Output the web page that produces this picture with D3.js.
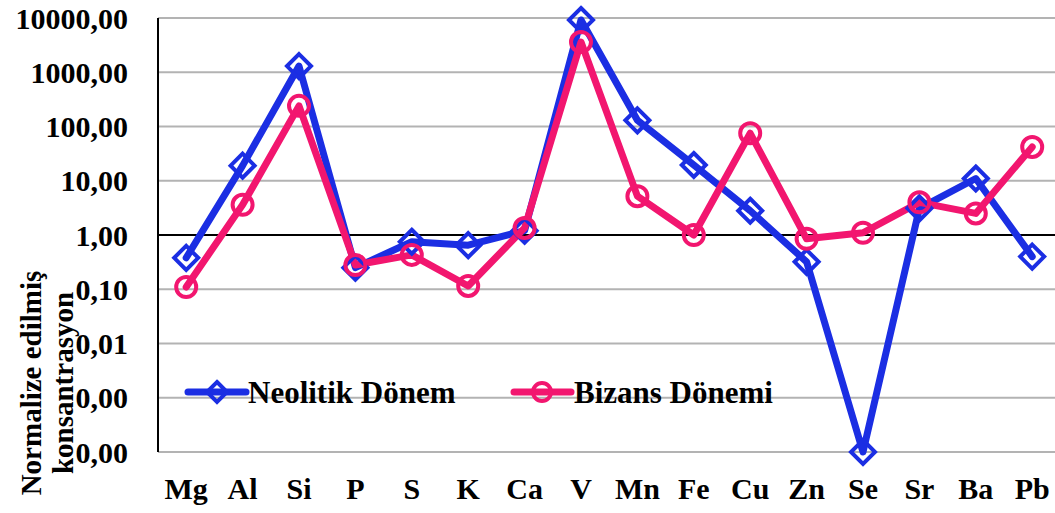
<!DOCTYPE html>
<html>
<head>
<meta charset="utf-8">
<script src="https://cdn.jsdelivr.net/npm/d3@7"></script>
</head>
<body style="margin:0;padding:0;background:#fff">
<svg id="chart" width="1055" height="513" style="display:block;font-family:'Liberation Serif';font-weight:bold"></svg>
<script>
const categories = ["Mg","Al","Si","P","S","K","Ca","V","Mn","Fe","Cu","Zn","Se","Sr","Ba","Pb"];
const neolitik = [0.38, 19, 1300, 0.25, 0.75, 0.65, 1.2, 9200, 130, 19.5, 2.8, 0.32, 0.0001, 3.1, 11, 0.4];
const bizans   = [0.11, 3.6, 240, 0.28, 0.43, 0.115, 1.35, 3600, 5.2, 1.0, 75, 0.85, 1.1, 4.0, 2.5, 42];
const tickValues = [10000, 1000, 100, 10, 1, 0.1, 0.01, 0.001, 0.0001];
const tickLabels = ["10000,00","1000,00","100,00","10,00","1,00","0,10","0,01","0,00","0,00"];
const seriesNames = ["Neolitik Dönem", "Bizans Dönemi"];
const colors = ["#1B2EE3", "#F2166F"];

const FONT = "'Liberation Serif'";
const svg = d3.select("#chart");
const plotLeft = 158, plotTop = 18, plotBottom = 452, band = 56.4;

const x = d3.scaleBand().domain(categories).range([plotLeft, plotLeft + band * categories.length]).padding(0);
const y = d3.scaleLog().domain([0.0001, 10000]).range([plotBottom, plotTop]);
const cx = d => x(d) + x.bandwidth() / 2;

const styleText = sel => sel.attr("font-family", FONT).attr("font-weight", "bold").attr("fill", "#000");

// gridlines
svg.append("g").selectAll("line").data(tickValues).join("line")
  .attr("x1", plotLeft).attr("x2", 1055)
  .attr("y1", d => y(d)).attr("y2", d => y(d))
  .attr("stroke", d => d === 1 ? "#000" : "#b3b3b3")
  .attr("stroke-width", 2);

// y axis line
svg.append("line").attr("x1", plotLeft).attr("x2", plotLeft)
  .attr("y1", plotTop).attr("y2", plotBottom).attr("stroke", "#000").attr("stroke-width", 2);

// y tick labels
const yAxis = d3.axisLeft(y).tickValues(tickValues).tickSize(0).tickPadding(0)
  .tickFormat((d, i) => tickLabels[i]);
const yg = svg.append("g").attr("transform", "translate(128,0)").call(yAxis);
yg.attr("font-family", FONT).attr("font-weight", "bold");
yg.select(".domain").remove();
yg.selectAll("text").attr("font-size", 30).attr("dy", "0.34em").call(styleText);

// x labels
const xAxis = d3.axisBottom(x).tickSize(0).tickPadding(0);
const xg = svg.append("g").attr("transform", "translate(0,499)").call(xAxis);
xg.attr("font-family", FONT).attr("font-weight", "bold");
xg.select(".domain").remove();
xg.selectAll("text").attr("font-size", 30).attr("dy", 0).attr("y", 0).call(styleText);

// y axis title
const title = svg.append("g");
title.append("text").attr("transform", "translate(41,383) rotate(-90)")
  .attr("text-anchor", "middle").attr("font-size", 29).call(styleText).text("Normalize edilmiş");
title.append("text").attr("transform", "translate(73,383) rotate(-90)")
  .attr("text-anchor", "middle").attr("font-size", 29).call(styleText).text("konsantrasyon");

// series lines
const line = d3.line().x((d, i) => cx(categories[i])).y(d => y(d));
[neolitik, bizans].forEach((data, k) => {
  svg.append("path").datum(data).attr("d", line)
    .attr("fill", "none").attr("stroke", colors[k]).attr("stroke-width", 7)
    .attr("stroke-linejoin", "round").attr("stroke-linecap", "round");
});

// markers
const diamond = (g, px, py, s) => g.append("path")
  .attr("d", `M${px},${py - s}L${px + s},${py}L${px},${py + s}L${px - s},${py}Z`)
  .attr("fill", "none").attr("stroke", colors[0]).attr("stroke-width", 4);
const circle = (g, px, py, r) => g.append("circle").attr("cx", px).attr("cy", py).attr("r", r)
  .attr("fill", "none").attr("stroke", colors[1]).attr("stroke-width", 4);

const mg = svg.append("g");
neolitik.forEach((v, i) => diamond(mg, cx(categories[i]), y(v), 12));
bizans.forEach((v, i) => circle(mg, cx(categories[i]), y(v), 10));

// legend
const lg = svg.append("g");
const legendY = 392;
lg.append("line").attr("x1", 188).attr("x2", 246).attr("y1", legendY).attr("y2", legendY)
  .attr("stroke", colors[0]).attr("stroke-width", 7).attr("stroke-linecap", "round");
diamond(lg, 217, legendY, 10);
lg.append("text").attr("x", 248).attr("y", 403).attr("font-size", 31).call(styleText).text(seriesNames[0]);
lg.append("line").attr("x1", 514).attr("x2", 571).attr("y1", legendY).attr("y2", legendY)
  .attr("stroke", colors[1]).attr("stroke-width", 7).attr("stroke-linecap", "round");
circle(lg, 542, legendY, 9);
lg.append("text").attr("x", 574).attr("y", 403).attr("font-size", 31).call(styleText).text(seriesNames[1]);
</script>
</body>
</html>
